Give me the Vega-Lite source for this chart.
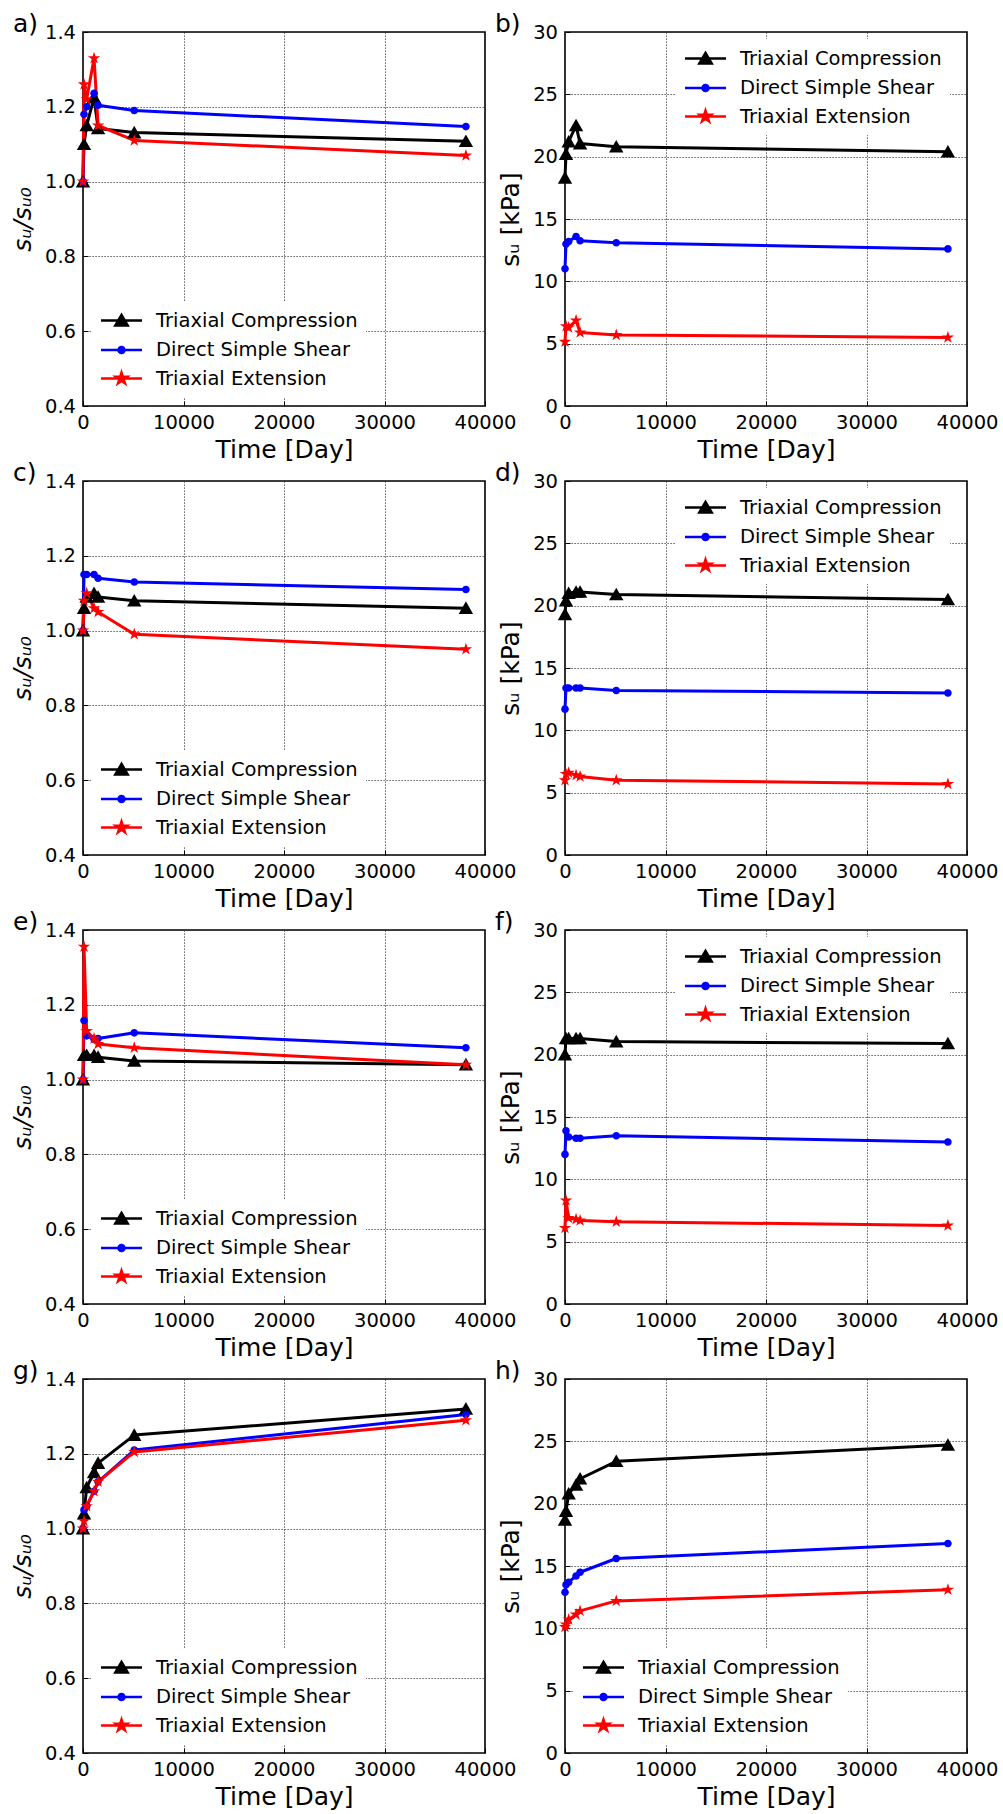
{
  "$schema": "https://vega.github.io/schema/vega-lite/v6.json",
  "padding": {"left": 9, "top": 10, "right": 0, "bottom": 0},
  "config": {
    "font": "DejaVu Sans",
    "view": {"stroke": "black", "strokeWidth": 1.6},
    "axis": {"grid": true, "gridColor": "#333333", "gridDash": [1.2, 1.8], "gridWidth": 1, "domain": false, "ticks": true, "tickSize": -5, "tickColor": "black", "tickWidth": 1, "labelFontSize": 19.5, "labelColor": "black", "labelPadding": 12.5, "titleFontSize": 25, "titleFontWeight": "normal", "titleColor": "black", "labelFlush": false, "labelOverlap": false},
    "axisX": {"titlePadding": 5},
    "axisY": {"titlePadding": 9},
    "title": {"fontSize": 25, "fontWeight": "normal", "anchor": "start", "frame": "group", "dx": -70, "baseline": "alphabetic", "offset": -14.5, "color": "black"},
    "legend": {"orient": "none", "fillColor": "white", "padding": 8, "symbolSize": 400, "symbolOffset": 10, "labelOffset": 23, "rowPadding": 7.5, "labelFontSize": 19.5, "labelColor": "black", "labelLimit": 400, "symbolStrokeWidth": 2.5, "symbolOpacity": 1}
  },
  "datasets": {
    "d": [
      {"p":"a","s":"Triaxial Compression","t":0,"v":1.0},{"p":"a","s":"Triaxial Compression","t":100,"v":1.10},{"p":"a","s":"Triaxial Compression","t":365,"v":1.15},{"p":"a","s":"Triaxial Compression","t":1100,"v":1.225},{"p":"a","s":"Triaxial Compression","t":1500,"v":1.142},{"p":"a","s":"Triaxial Compression","t":5100,"v":1.131},{"p":"a","s":"Triaxial Compression","t":38100,"v":1.108},
      {"p":"a","s":"Direct Simple Shear","t":0,"v":1.0},{"p":"a","s":"Direct Simple Shear","t":100,"v":1.18},{"p":"a","s":"Direct Simple Shear","t":365,"v":1.20},{"p":"a","s":"Direct Simple Shear","t":1100,"v":1.236},{"p":"a","s":"Direct Simple Shear","t":1500,"v":1.204},{"p":"a","s":"Direct Simple Shear","t":5100,"v":1.19},{"p":"a","s":"Direct Simple Shear","t":38100,"v":1.147},
      {"p":"a","s":"Triaxial Extension","t":0,"v":1.0},{"p":"a","s":"Triaxial Extension","t":100,"v":1.26},{"p":"a","s":"Triaxial Extension","t":365,"v":1.22},{"p":"a","s":"Triaxial Extension","t":1100,"v":1.33},{"p":"a","s":"Triaxial Extension","t":1500,"v":1.15},{"p":"a","s":"Triaxial Extension","t":5100,"v":1.11},{"p":"a","s":"Triaxial Extension","t":38100,"v":1.07},
      {"p":"b","s":"Triaxial Compression","t":0,"v":18.3},{"p":"b","s":"Triaxial Compression","t":100,"v":20.2},{"p":"b","s":"Triaxial Compression","t":365,"v":21.2},{"p":"b","s":"Triaxial Compression","t":1100,"v":22.5},{"p":"b","s":"Triaxial Compression","t":1500,"v":21.05},{"p":"b","s":"Triaxial Compression","t":5100,"v":20.8},{"p":"b","s":"Triaxial Compression","t":38100,"v":20.4},
      {"p":"b","s":"Direct Simple Shear","t":0,"v":11.0},{"p":"b","s":"Direct Simple Shear","t":100,"v":13.0},{"p":"b","s":"Direct Simple Shear","t":365,"v":13.2},{"p":"b","s":"Direct Simple Shear","t":1100,"v":13.6},{"p":"b","s":"Direct Simple Shear","t":1500,"v":13.25},{"p":"b","s":"Direct Simple Shear","t":5100,"v":13.1},{"p":"b","s":"Direct Simple Shear","t":38100,"v":12.6},
      {"p":"b","s":"Triaxial Extension","t":0,"v":5.15},{"p":"b","s":"Triaxial Extension","t":100,"v":6.4},{"p":"b","s":"Triaxial Extension","t":365,"v":6.3},{"p":"b","s":"Triaxial Extension","t":1100,"v":6.85},{"p":"b","s":"Triaxial Extension","t":1500,"v":5.9},{"p":"b","s":"Triaxial Extension","t":5100,"v":5.7},{"p":"b","s":"Triaxial Extension","t":38100,"v":5.5},
      {"p":"c","s":"Triaxial Compression","t":0,"v":1.0},{"p":"c","s":"Triaxial Compression","t":100,"v":1.06},{"p":"c","s":"Triaxial Compression","t":365,"v":1.09},{"p":"c","s":"Triaxial Compression","t":1100,"v":1.10},{"p":"c","s":"Triaxial Compression","t":1500,"v":1.09},{"p":"c","s":"Triaxial Compression","t":5100,"v":1.08},{"p":"c","s":"Triaxial Compression","t":38100,"v":1.06},
      {"p":"c","s":"Direct Simple Shear","t":0,"v":1.0},{"p":"c","s":"Direct Simple Shear","t":100,"v":1.15},{"p":"c","s":"Direct Simple Shear","t":365,"v":1.15},{"p":"c","s":"Direct Simple Shear","t":1100,"v":1.15},{"p":"c","s":"Direct Simple Shear","t":1500,"v":1.14},{"p":"c","s":"Direct Simple Shear","t":5100,"v":1.13},{"p":"c","s":"Direct Simple Shear","t":38100,"v":1.11},
      {"p":"c","s":"Triaxial Extension","t":0,"v":1.0},{"p":"c","s":"Triaxial Extension","t":100,"v":1.08},{"p":"c","s":"Triaxial Extension","t":365,"v":1.10},{"p":"c","s":"Triaxial Extension","t":1100,"v":1.06},{"p":"c","s":"Triaxial Extension","t":1500,"v":1.05},{"p":"c","s":"Triaxial Extension","t":5100,"v":0.99},{"p":"c","s":"Triaxial Extension","t":38100,"v":0.95},
      {"p":"d","s":"Triaxial Compression","t":0,"v":19.3},{"p":"d","s":"Triaxial Compression","t":100,"v":20.4},{"p":"d","s":"Triaxial Compression","t":365,"v":21.0},{"p":"d","s":"Triaxial Compression","t":1100,"v":21.1},{"p":"d","s":"Triaxial Compression","t":1500,"v":21.1},{"p":"d","s":"Triaxial Compression","t":5100,"v":20.9},{"p":"d","s":"Triaxial Compression","t":38100,"v":20.5},
      {"p":"d","s":"Direct Simple Shear","t":0,"v":11.7},{"p":"d","s":"Direct Simple Shear","t":100,"v":13.4},{"p":"d","s":"Direct Simple Shear","t":365,"v":13.4},{"p":"d","s":"Direct Simple Shear","t":1100,"v":13.4},{"p":"d","s":"Direct Simple Shear","t":1500,"v":13.4},{"p":"d","s":"Direct Simple Shear","t":5100,"v":13.2},{"p":"d","s":"Direct Simple Shear","t":38100,"v":13.0},
      {"p":"d","s":"Triaxial Extension","t":0,"v":6.0},{"p":"d","s":"Triaxial Extension","t":100,"v":6.5},{"p":"d","s":"Triaxial Extension","t":365,"v":6.6},{"p":"d","s":"Triaxial Extension","t":1100,"v":6.4},{"p":"d","s":"Triaxial Extension","t":1500,"v":6.3},{"p":"d","s":"Triaxial Extension","t":5100,"v":6.0},{"p":"d","s":"Triaxial Extension","t":38100,"v":5.7},
      {"p":"e","s":"Triaxial Compression","t":0,"v":1.0},{"p":"e","s":"Triaxial Compression","t":100,"v":1.065},{"p":"e","s":"Triaxial Compression","t":365,"v":1.065},{"p":"e","s":"Triaxial Compression","t":1100,"v":1.065},{"p":"e","s":"Triaxial Compression","t":1500,"v":1.06},{"p":"e","s":"Triaxial Compression","t":5100,"v":1.05},{"p":"e","s":"Triaxial Compression","t":38100,"v":1.04},
      {"p":"e","s":"Direct Simple Shear","t":0,"v":1.0},{"p":"e","s":"Direct Simple Shear","t":100,"v":1.158},{"p":"e","s":"Direct Simple Shear","t":365,"v":1.117},{"p":"e","s":"Direct Simple Shear","t":1100,"v":1.108},{"p":"e","s":"Direct Simple Shear","t":1500,"v":1.11},{"p":"e","s":"Direct Simple Shear","t":5100,"v":1.125},{"p":"e","s":"Direct Simple Shear","t":38100,"v":1.085},
      {"p":"e","s":"Triaxial Extension","t":0,"v":1.0},{"p":"e","s":"Triaxial Extension","t":100,"v":1.355},{"p":"e","s":"Triaxial Extension","t":365,"v":1.13},{"p":"e","s":"Triaxial Extension","t":1100,"v":1.11},{"p":"e","s":"Triaxial Extension","t":1500,"v":1.095},{"p":"e","s":"Triaxial Extension","t":5100,"v":1.085},{"p":"e","s":"Triaxial Extension","t":38100,"v":1.04},
      {"p":"f","s":"Triaxial Compression","t":0,"v":20.0},{"p":"f","s":"Triaxial Compression","t":100,"v":21.3},{"p":"f","s":"Triaxial Compression","t":365,"v":21.3},{"p":"f","s":"Triaxial Compression","t":1100,"v":21.3},{"p":"f","s":"Triaxial Compression","t":1500,"v":21.3},{"p":"f","s":"Triaxial Compression","t":5100,"v":21.05},{"p":"f","s":"Triaxial Compression","t":38100,"v":20.9},
      {"p":"f","s":"Direct Simple Shear","t":0,"v":12.0},{"p":"f","s":"Direct Simple Shear","t":100,"v":13.9},{"p":"f","s":"Direct Simple Shear","t":365,"v":13.4},{"p":"f","s":"Direct Simple Shear","t":1100,"v":13.3},{"p":"f","s":"Direct Simple Shear","t":1500,"v":13.3},{"p":"f","s":"Direct Simple Shear","t":5100,"v":13.5},{"p":"f","s":"Direct Simple Shear","t":38100,"v":13.0},
      {"p":"f","s":"Triaxial Extension","t":0,"v":6.1},{"p":"f","s":"Triaxial Extension","t":100,"v":8.3},{"p":"f","s":"Triaxial Extension","t":365,"v":6.9},{"p":"f","s":"Triaxial Extension","t":1100,"v":6.8},{"p":"f","s":"Triaxial Extension","t":1500,"v":6.7},{"p":"f","s":"Triaxial Extension","t":5100,"v":6.6},{"p":"f","s":"Triaxial Extension","t":38100,"v":6.3},
      {"p":"g","s":"Triaxial Compression","t":0,"v":1.0},{"p":"g","s":"Triaxial Compression","t":100,"v":1.04},{"p":"g","s":"Triaxial Compression","t":365,"v":1.11},{"p":"g","s":"Triaxial Compression","t":1100,"v":1.15},{"p":"g","s":"Triaxial Compression","t":1500,"v":1.175},{"p":"g","s":"Triaxial Compression","t":5100,"v":1.25},{"p":"g","s":"Triaxial Compression","t":38100,"v":1.32},
      {"p":"g","s":"Direct Simple Shear","t":0,"v":1.0},{"p":"g","s":"Direct Simple Shear","t":100,"v":1.05},{"p":"g","s":"Direct Simple Shear","t":365,"v":1.06},{"p":"g","s":"Direct Simple Shear","t":1100,"v":1.10},{"p":"g","s":"Direct Simple Shear","t":1500,"v":1.125},{"p":"g","s":"Direct Simple Shear","t":5100,"v":1.21},{"p":"g","s":"Direct Simple Shear","t":38100,"v":1.305},
      {"p":"g","s":"Triaxial Extension","t":0,"v":1.0},{"p":"g","s":"Triaxial Extension","t":100,"v":1.02},{"p":"g","s":"Triaxial Extension","t":365,"v":1.06},{"p":"g","s":"Triaxial Extension","t":1100,"v":1.10},{"p":"g","s":"Triaxial Extension","t":1500,"v":1.125},{"p":"g","s":"Triaxial Extension","t":5100,"v":1.205},{"p":"g","s":"Triaxial Extension","t":38100,"v":1.29},
      {"p":"h","s":"Triaxial Compression","t":0,"v":18.7},{"p":"h","s":"Triaxial Compression","t":100,"v":19.4},{"p":"h","s":"Triaxial Compression","t":365,"v":20.8},{"p":"h","s":"Triaxial Compression","t":1100,"v":21.5},{"p":"h","s":"Triaxial Compression","t":1500,"v":22.0},{"p":"h","s":"Triaxial Compression","t":5100,"v":23.4},{"p":"h","s":"Triaxial Compression","t":38100,"v":24.7},
      {"p":"h","s":"Direct Simple Shear","t":0,"v":12.9},{"p":"h","s":"Direct Simple Shear","t":100,"v":13.5},{"p":"h","s":"Direct Simple Shear","t":365,"v":13.7},{"p":"h","s":"Direct Simple Shear","t":1100,"v":14.2},{"p":"h","s":"Direct Simple Shear","t":1500,"v":14.5},{"p":"h","s":"Direct Simple Shear","t":5100,"v":15.6},{"p":"h","s":"Direct Simple Shear","t":38100,"v":16.8},
      {"p":"h","s":"Triaxial Extension","t":0,"v":10.1},{"p":"h","s":"Triaxial Extension","t":100,"v":10.3},{"p":"h","s":"Triaxial Extension","t":365,"v":10.7},{"p":"h","s":"Triaxial Extension","t":1100,"v":11.1},{"p":"h","s":"Triaxial Extension","t":1500,"v":11.4},{"p":"h","s":"Triaxial Extension","t":5100,"v":12.2},{"p":"h","s":"Triaxial Extension","t":38100,"v":13.1}
    ]
  },
  "columns": 2,
  "spacing": {"row": 75, "column": 80},
  "bounds": "flush",
  "resolve": {"scale": {"x": "independent", "y": "independent", "color": "independent", "shape": "independent"}, "legend": {"color": "independent"}},
  "concat": [
    {
      "width": 402, "height": 374, "title": {"text": "a)"},
      "data": {"name": "d"}, "transform": [{"filter": "datum.p === 'a'"}],
      "encoding": {
        "x": {"field": "t", "type": "quantitative", "scale": {"domain": [0, 40000], "nice": false, "zero": false}, "axis": {"values": [0, 10000, 20000, 30000, 40000], "format": "d", "title": "Time [Day]"}},
        "y": {"field": "v", "type": "quantitative", "scale": {"domain": [0.4, 1.4], "nice": false, "zero": false}, "axis": {"values": [0.4, 0.6, 0.8, 1.0, 1.2, 1.4], "format": ".1f", "title": "sᵤ/sᵤ₀", "titleFontStyle": "italic"}},
        "color": {"field": "s", "type": "nominal", "scale": {"domain": ["Triaxial Compression", "Direct Simple Shear", "Triaxial Extension"], "range": ["black", "blue", "red"]},
          "legend": {"title": null, "legendX": 9, "legendY": 269, "encode": {"symbols": {"update": {
            "shape": {"signal": "datum.value == 'Triaxial Compression' ? 'M-2.05,0H2.05M0,-0.55L0.62,0.5L-0.62,0.5Z' : (datum.value == 'Direct Simple Shear' ? 'M-2.05,0H2.05M0.3,0A0.3,0.3 0 1,1 -0.3,0A0.3,0.3 0 1,1 0.3,0Z' : 'M-2.05,0H2.05M0,-0.58L0.129,-0.178L0.552,-0.179L0.209,0.068L0.341,0.469L0,0.22L-0.341,0.469L-0.209,0.068L-0.552,-0.179L-0.129,-0.178Z')"},
            "fill": {"signal": "datum.value == 'Triaxial Compression' ? 'black' : (datum.value == 'Direct Simple Shear' ? 'blue' : 'red')"},
            "stroke": {"signal": "datum.value == 'Triaxial Compression' ? 'black' : (datum.value == 'Direct Simple Shear' ? 'blue' : 'red')"},
            "strokeWidth": {"value": 2.5}, "opacity": {"value": 1}, "fillOpacity": {"value": 1}, "strokeOpacity": {"value": 1}, "size": {"value": 400}}}}}}
      },
      "layer": [
        {"mark": {"type": "line", "strokeWidth": 3, "strokeJoin": "round"}},
        {"mark": {"type": "point", "filled": true, "opacity": 1, "size": 400},
         "encoding": {
           "shape": {"field": "s", "type": "nominal", "scale": {"domain": ["Direct Simple Shear", "Triaxial Compression", "Triaxial Extension"], "range": ["M0.38,0A0.38,0.38 0 1,1 -0.38,0A0.38,0.38 0 1,1 0.38,0Z", "M0,-0.68L0.72,0.58L-0.72,0.58Z", "M0,-0.65L0.145,-0.2L0.62,-0.2L0.234,0.077L0.382,0.527L0,0.249L-0.382,0.527L-0.234,0.077L-0.62,-0.2L-0.145,-0.2Z"]}, "legend": null}}}
      ]
    },
    {
      "width": 402, "height": 374, "title": {"text": "b)"},
      "data": {"name": "d"}, "transform": [{"filter": "datum.p === 'b'"}],
      "encoding": {
        "x": {"field": "t", "type": "quantitative", "scale": {"domain": [0, 40000], "nice": false, "zero": false}, "axis": {"values": [0, 10000, 20000, 30000, 40000], "format": "d", "title": "Time [Day]"}},
        "y": {"field": "v", "type": "quantitative", "scale": {"domain": [0, 30], "nice": false}, "axis": {"values": [0, 5, 10, 15, 20, 25, 30], "format": "d", "title": "sᵤ [kPa]"}},
        "color": {"field": "s", "type": "nominal", "scale": {"domain": ["Triaxial Compression", "Direct Simple Shear", "Triaxial Extension"], "range": ["black", "blue", "red"]},
          "legend": {"title": null, "legendX": 111, "legendY": 7, "encode": {"symbols": {"update": {
            "shape": {"signal": "datum.value == 'Triaxial Compression' ? 'M-2.05,0H2.05M0,-0.55L0.62,0.5L-0.62,0.5Z' : (datum.value == 'Direct Simple Shear' ? 'M-2.05,0H2.05M0.3,0A0.3,0.3 0 1,1 -0.3,0A0.3,0.3 0 1,1 0.3,0Z' : 'M-2.05,0H2.05M0,-0.58L0.129,-0.178L0.552,-0.179L0.209,0.068L0.341,0.469L0,0.22L-0.341,0.469L-0.209,0.068L-0.552,-0.179L-0.129,-0.178Z')"},
            "fill": {"signal": "datum.value == 'Triaxial Compression' ? 'black' : (datum.value == 'Direct Simple Shear' ? 'blue' : 'red')"},
            "stroke": {"signal": "datum.value == 'Triaxial Compression' ? 'black' : (datum.value == 'Direct Simple Shear' ? 'blue' : 'red')"},
            "strokeWidth": {"value": 2.5}, "opacity": {"value": 1}, "fillOpacity": {"value": 1}, "strokeOpacity": {"value": 1}, "size": {"value": 400}}}}}}
      },
      "layer": [
        {"mark": {"type": "line", "strokeWidth": 3, "strokeJoin": "round"}},
        {"mark": {"type": "point", "filled": true, "opacity": 1, "size": 400},
         "encoding": {
           "shape": {"field": "s", "type": "nominal", "scale": {"domain": ["Direct Simple Shear", "Triaxial Compression", "Triaxial Extension"], "range": ["M0.38,0A0.38,0.38 0 1,1 -0.38,0A0.38,0.38 0 1,1 0.38,0Z", "M0,-0.68L0.72,0.58L-0.72,0.58Z", "M0,-0.65L0.145,-0.2L0.62,-0.2L0.234,0.077L0.382,0.527L0,0.249L-0.382,0.527L-0.234,0.077L-0.62,-0.2L-0.145,-0.2Z"]}, "legend": null}}}
      ]
    },
    {
      "width": 402, "height": 374, "title": {"text": "c)"},
      "data": {"name": "d"}, "transform": [{"filter": "datum.p === 'c'"}],
      "encoding": {
        "x": {"field": "t", "type": "quantitative", "scale": {"domain": [0, 40000], "nice": false, "zero": false}, "axis": {"values": [0, 10000, 20000, 30000, 40000], "format": "d", "title": "Time [Day]"}},
        "y": {"field": "v", "type": "quantitative", "scale": {"domain": [0.4, 1.4], "nice": false, "zero": false}, "axis": {"values": [0.4, 0.6, 0.8, 1.0, 1.2, 1.4], "format": ".1f", "title": "sᵤ/sᵤ₀", "titleFontStyle": "italic"}},
        "color": {"field": "s", "type": "nominal", "scale": {"domain": ["Triaxial Compression", "Direct Simple Shear", "Triaxial Extension"], "range": ["black", "blue", "red"]},
          "legend": {"title": null, "legendX": 9, "legendY": 269, "encode": {"symbols": {"update": {
            "shape": {"signal": "datum.value == 'Triaxial Compression' ? 'M-2.05,0H2.05M0,-0.55L0.62,0.5L-0.62,0.5Z' : (datum.value == 'Direct Simple Shear' ? 'M-2.05,0H2.05M0.3,0A0.3,0.3 0 1,1 -0.3,0A0.3,0.3 0 1,1 0.3,0Z' : 'M-2.05,0H2.05M0,-0.58L0.129,-0.178L0.552,-0.179L0.209,0.068L0.341,0.469L0,0.22L-0.341,0.469L-0.209,0.068L-0.552,-0.179L-0.129,-0.178Z')"},
            "fill": {"signal": "datum.value == 'Triaxial Compression' ? 'black' : (datum.value == 'Direct Simple Shear' ? 'blue' : 'red')"},
            "stroke": {"signal": "datum.value == 'Triaxial Compression' ? 'black' : (datum.value == 'Direct Simple Shear' ? 'blue' : 'red')"},
            "strokeWidth": {"value": 2.5}, "opacity": {"value": 1}, "fillOpacity": {"value": 1}, "strokeOpacity": {"value": 1}, "size": {"value": 400}}}}}}
      },
      "layer": [
        {"mark": {"type": "line", "strokeWidth": 3, "strokeJoin": "round"}},
        {"mark": {"type": "point", "filled": true, "opacity": 1, "size": 400},
         "encoding": {
           "shape": {"field": "s", "type": "nominal", "scale": {"domain": ["Direct Simple Shear", "Triaxial Compression", "Triaxial Extension"], "range": ["M0.38,0A0.38,0.38 0 1,1 -0.38,0A0.38,0.38 0 1,1 0.38,0Z", "M0,-0.68L0.72,0.58L-0.72,0.58Z", "M0,-0.65L0.145,-0.2L0.62,-0.2L0.234,0.077L0.382,0.527L0,0.249L-0.382,0.527L-0.234,0.077L-0.62,-0.2L-0.145,-0.2Z"]}, "legend": null}}}
      ]
    },
    {
      "width": 402, "height": 374, "title": {"text": "d)"},
      "data": {"name": "d"}, "transform": [{"filter": "datum.p === 'd'"}],
      "encoding": {
        "x": {"field": "t", "type": "quantitative", "scale": {"domain": [0, 40000], "nice": false, "zero": false}, "axis": {"values": [0, 10000, 20000, 30000, 40000], "format": "d", "title": "Time [Day]"}},
        "y": {"field": "v", "type": "quantitative", "scale": {"domain": [0, 30], "nice": false}, "axis": {"values": [0, 5, 10, 15, 20, 25, 30], "format": "d", "title": "sᵤ [kPa]"}},
        "color": {"field": "s", "type": "nominal", "scale": {"domain": ["Triaxial Compression", "Direct Simple Shear", "Triaxial Extension"], "range": ["black", "blue", "red"]},
          "legend": {"title": null, "legendX": 111, "legendY": 7, "encode": {"symbols": {"update": {
            "shape": {"signal": "datum.value == 'Triaxial Compression' ? 'M-2.05,0H2.05M0,-0.55L0.62,0.5L-0.62,0.5Z' : (datum.value == 'Direct Simple Shear' ? 'M-2.05,0H2.05M0.3,0A0.3,0.3 0 1,1 -0.3,0A0.3,0.3 0 1,1 0.3,0Z' : 'M-2.05,0H2.05M0,-0.58L0.129,-0.178L0.552,-0.179L0.209,0.068L0.341,0.469L0,0.22L-0.341,0.469L-0.209,0.068L-0.552,-0.179L-0.129,-0.178Z')"},
            "fill": {"signal": "datum.value == 'Triaxial Compression' ? 'black' : (datum.value == 'Direct Simple Shear' ? 'blue' : 'red')"},
            "stroke": {"signal": "datum.value == 'Triaxial Compression' ? 'black' : (datum.value == 'Direct Simple Shear' ? 'blue' : 'red')"},
            "strokeWidth": {"value": 2.5}, "opacity": {"value": 1}, "fillOpacity": {"value": 1}, "strokeOpacity": {"value": 1}, "size": {"value": 400}}}}}}
      },
      "layer": [
        {"mark": {"type": "line", "strokeWidth": 3, "strokeJoin": "round"}},
        {"mark": {"type": "point", "filled": true, "opacity": 1, "size": 400},
         "encoding": {
           "shape": {"field": "s", "type": "nominal", "scale": {"domain": ["Direct Simple Shear", "Triaxial Compression", "Triaxial Extension"], "range": ["M0.38,0A0.38,0.38 0 1,1 -0.38,0A0.38,0.38 0 1,1 0.38,0Z", "M0,-0.68L0.72,0.58L-0.72,0.58Z", "M0,-0.65L0.145,-0.2L0.62,-0.2L0.234,0.077L0.382,0.527L0,0.249L-0.382,0.527L-0.234,0.077L-0.62,-0.2L-0.145,-0.2Z"]}, "legend": null}}}
      ]
    },
    {
      "width": 402, "height": 374, "title": {"text": "e)"},
      "data": {"name": "d"}, "transform": [{"filter": "datum.p === 'e'"}],
      "encoding": {
        "x": {"field": "t", "type": "quantitative", "scale": {"domain": [0, 40000], "nice": false, "zero": false}, "axis": {"values": [0, 10000, 20000, 30000, 40000], "format": "d", "title": "Time [Day]"}},
        "y": {"field": "v", "type": "quantitative", "scale": {"domain": [0.4, 1.4], "nice": false, "zero": false}, "axis": {"values": [0.4, 0.6, 0.8, 1.0, 1.2, 1.4], "format": ".1f", "title": "sᵤ/sᵤ₀", "titleFontStyle": "italic"}},
        "color": {"field": "s", "type": "nominal", "scale": {"domain": ["Triaxial Compression", "Direct Simple Shear", "Triaxial Extension"], "range": ["black", "blue", "red"]},
          "legend": {"title": null, "legendX": 9, "legendY": 269, "encode": {"symbols": {"update": {
            "shape": {"signal": "datum.value == 'Triaxial Compression' ? 'M-2.05,0H2.05M0,-0.55L0.62,0.5L-0.62,0.5Z' : (datum.value == 'Direct Simple Shear' ? 'M-2.05,0H2.05M0.3,0A0.3,0.3 0 1,1 -0.3,0A0.3,0.3 0 1,1 0.3,0Z' : 'M-2.05,0H2.05M0,-0.58L0.129,-0.178L0.552,-0.179L0.209,0.068L0.341,0.469L0,0.22L-0.341,0.469L-0.209,0.068L-0.552,-0.179L-0.129,-0.178Z')"},
            "fill": {"signal": "datum.value == 'Triaxial Compression' ? 'black' : (datum.value == 'Direct Simple Shear' ? 'blue' : 'red')"},
            "stroke": {"signal": "datum.value == 'Triaxial Compression' ? 'black' : (datum.value == 'Direct Simple Shear' ? 'blue' : 'red')"},
            "strokeWidth": {"value": 2.5}, "opacity": {"value": 1}, "fillOpacity": {"value": 1}, "strokeOpacity": {"value": 1}, "size": {"value": 400}}}}}}
      },
      "layer": [
        {"mark": {"type": "line", "strokeWidth": 3, "strokeJoin": "round"}},
        {"mark": {"type": "point", "filled": true, "opacity": 1, "size": 400},
         "encoding": {
           "shape": {"field": "s", "type": "nominal", "scale": {"domain": ["Direct Simple Shear", "Triaxial Compression", "Triaxial Extension"], "range": ["M0.38,0A0.38,0.38 0 1,1 -0.38,0A0.38,0.38 0 1,1 0.38,0Z", "M0,-0.68L0.72,0.58L-0.72,0.58Z", "M0,-0.65L0.145,-0.2L0.62,-0.2L0.234,0.077L0.382,0.527L0,0.249L-0.382,0.527L-0.234,0.077L-0.62,-0.2L-0.145,-0.2Z"]}, "legend": null}}}
      ]
    },
    {
      "width": 402, "height": 374, "title": {"text": "f)"},
      "data": {"name": "d"}, "transform": [{"filter": "datum.p === 'f'"}],
      "encoding": {
        "x": {"field": "t", "type": "quantitative", "scale": {"domain": [0, 40000], "nice": false, "zero": false}, "axis": {"values": [0, 10000, 20000, 30000, 40000], "format": "d", "title": "Time [Day]"}},
        "y": {"field": "v", "type": "quantitative", "scale": {"domain": [0, 30], "nice": false}, "axis": {"values": [0, 5, 10, 15, 20, 25, 30], "format": "d", "title": "sᵤ [kPa]"}},
        "color": {"field": "s", "type": "nominal", "scale": {"domain": ["Triaxial Compression", "Direct Simple Shear", "Triaxial Extension"], "range": ["black", "blue", "red"]},
          "legend": {"title": null, "legendX": 111, "legendY": 7, "encode": {"symbols": {"update": {
            "shape": {"signal": "datum.value == 'Triaxial Compression' ? 'M-2.05,0H2.05M0,-0.55L0.62,0.5L-0.62,0.5Z' : (datum.value == 'Direct Simple Shear' ? 'M-2.05,0H2.05M0.3,0A0.3,0.3 0 1,1 -0.3,0A0.3,0.3 0 1,1 0.3,0Z' : 'M-2.05,0H2.05M0,-0.58L0.129,-0.178L0.552,-0.179L0.209,0.068L0.341,0.469L0,0.22L-0.341,0.469L-0.209,0.068L-0.552,-0.179L-0.129,-0.178Z')"},
            "fill": {"signal": "datum.value == 'Triaxial Compression' ? 'black' : (datum.value == 'Direct Simple Shear' ? 'blue' : 'red')"},
            "stroke": {"signal": "datum.value == 'Triaxial Compression' ? 'black' : (datum.value == 'Direct Simple Shear' ? 'blue' : 'red')"},
            "strokeWidth": {"value": 2.5}, "opacity": {"value": 1}, "fillOpacity": {"value": 1}, "strokeOpacity": {"value": 1}, "size": {"value": 400}}}}}}
      },
      "layer": [
        {"mark": {"type": "line", "strokeWidth": 3, "strokeJoin": "round"}},
        {"mark": {"type": "point", "filled": true, "opacity": 1, "size": 400},
         "encoding": {
           "shape": {"field": "s", "type": "nominal", "scale": {"domain": ["Direct Simple Shear", "Triaxial Compression", "Triaxial Extension"], "range": ["M0.38,0A0.38,0.38 0 1,1 -0.38,0A0.38,0.38 0 1,1 0.38,0Z", "M0,-0.68L0.72,0.58L-0.72,0.58Z", "M0,-0.65L0.145,-0.2L0.62,-0.2L0.234,0.077L0.382,0.527L0,0.249L-0.382,0.527L-0.234,0.077L-0.62,-0.2L-0.145,-0.2Z"]}, "legend": null}}}
      ]
    },
    {
      "width": 402, "height": 374, "title": {"text": "g)"},
      "data": {"name": "d"}, "transform": [{"filter": "datum.p === 'g'"}],
      "encoding": {
        "x": {"field": "t", "type": "quantitative", "scale": {"domain": [0, 40000], "nice": false, "zero": false}, "axis": {"values": [0, 10000, 20000, 30000, 40000], "format": "d", "title": "Time [Day]"}},
        "y": {"field": "v", "type": "quantitative", "scale": {"domain": [0.4, 1.4], "nice": false, "zero": false}, "axis": {"values": [0.4, 0.6, 0.8, 1.0, 1.2, 1.4], "format": ".1f", "title": "sᵤ/sᵤ₀", "titleFontStyle": "italic"}},
        "color": {"field": "s", "type": "nominal", "scale": {"domain": ["Triaxial Compression", "Direct Simple Shear", "Triaxial Extension"], "range": ["black", "blue", "red"]},
          "legend": {"title": null, "legendX": 9, "legendY": 269, "encode": {"symbols": {"update": {
            "shape": {"signal": "datum.value == 'Triaxial Compression' ? 'M-2.05,0H2.05M0,-0.55L0.62,0.5L-0.62,0.5Z' : (datum.value == 'Direct Simple Shear' ? 'M-2.05,0H2.05M0.3,0A0.3,0.3 0 1,1 -0.3,0A0.3,0.3 0 1,1 0.3,0Z' : 'M-2.05,0H2.05M0,-0.58L0.129,-0.178L0.552,-0.179L0.209,0.068L0.341,0.469L0,0.22L-0.341,0.469L-0.209,0.068L-0.552,-0.179L-0.129,-0.178Z')"},
            "fill": {"signal": "datum.value == 'Triaxial Compression' ? 'black' : (datum.value == 'Direct Simple Shear' ? 'blue' : 'red')"},
            "stroke": {"signal": "datum.value == 'Triaxial Compression' ? 'black' : (datum.value == 'Direct Simple Shear' ? 'blue' : 'red')"},
            "strokeWidth": {"value": 2.5}, "opacity": {"value": 1}, "fillOpacity": {"value": 1}, "strokeOpacity": {"value": 1}, "size": {"value": 400}}}}}}
      },
      "layer": [
        {"mark": {"type": "line", "strokeWidth": 3, "strokeJoin": "round"}},
        {"mark": {"type": "point", "filled": true, "opacity": 1, "size": 400},
         "encoding": {
           "shape": {"field": "s", "type": "nominal", "scale": {"domain": ["Direct Simple Shear", "Triaxial Compression", "Triaxial Extension"], "range": ["M0.38,0A0.38,0.38 0 1,1 -0.38,0A0.38,0.38 0 1,1 0.38,0Z", "M0,-0.68L0.72,0.58L-0.72,0.58Z", "M0,-0.65L0.145,-0.2L0.62,-0.2L0.234,0.077L0.382,0.527L0,0.249L-0.382,0.527L-0.234,0.077L-0.62,-0.2L-0.145,-0.2Z"]}, "legend": null}}}
      ]
    },
    {
      "width": 402, "height": 374, "title": {"text": "h)"},
      "data": {"name": "d"}, "transform": [{"filter": "datum.p === 'h'"}],
      "encoding": {
        "x": {"field": "t", "type": "quantitative", "scale": {"domain": [0, 40000], "nice": false, "zero": false}, "axis": {"values": [0, 10000, 20000, 30000, 40000], "format": "d", "title": "Time [Day]"}},
        "y": {"field": "v", "type": "quantitative", "scale": {"domain": [0, 30], "nice": false}, "axis": {"values": [0, 5, 10, 15, 20, 25, 30], "format": "d", "title": "sᵤ [kPa]"}},
        "color": {"field": "s", "type": "nominal", "scale": {"domain": ["Triaxial Compression", "Direct Simple Shear", "Triaxial Extension"], "range": ["black", "blue", "red"]},
          "legend": {"title": null, "legendX": 9, "legendY": 269, "encode": {"symbols": {"update": {
            "shape": {"signal": "datum.value == 'Triaxial Compression' ? 'M-2.05,0H2.05M0,-0.55L0.62,0.5L-0.62,0.5Z' : (datum.value == 'Direct Simple Shear' ? 'M-2.05,0H2.05M0.3,0A0.3,0.3 0 1,1 -0.3,0A0.3,0.3 0 1,1 0.3,0Z' : 'M-2.05,0H2.05M0,-0.58L0.129,-0.178L0.552,-0.179L0.209,0.068L0.341,0.469L0,0.22L-0.341,0.469L-0.209,0.068L-0.552,-0.179L-0.129,-0.178Z')"},
            "fill": {"signal": "datum.value == 'Triaxial Compression' ? 'black' : (datum.value == 'Direct Simple Shear' ? 'blue' : 'red')"},
            "stroke": {"signal": "datum.value == 'Triaxial Compression' ? 'black' : (datum.value == 'Direct Simple Shear' ? 'blue' : 'red')"},
            "strokeWidth": {"value": 2.5}, "opacity": {"value": 1}, "fillOpacity": {"value": 1}, "strokeOpacity": {"value": 1}, "size": {"value": 400}}}}}}
      },
      "layer": [
        {"mark": {"type": "line", "strokeWidth": 3, "strokeJoin": "round"}},
        {"mark": {"type": "point", "filled": true, "opacity": 1, "size": 400},
         "encoding": {
           "shape": {"field": "s", "type": "nominal", "scale": {"domain": ["Direct Simple Shear", "Triaxial Compression", "Triaxial Extension"], "range": ["M0.38,0A0.38,0.38 0 1,1 -0.38,0A0.38,0.38 0 1,1 0.38,0Z", "M0,-0.68L0.72,0.58L-0.72,0.58Z", "M0,-0.65L0.145,-0.2L0.62,-0.2L0.234,0.077L0.382,0.527L0,0.249L-0.382,0.527L-0.234,0.077L-0.62,-0.2L-0.145,-0.2Z"]}, "legend": null}}}
      ]
    }
  ]
}
